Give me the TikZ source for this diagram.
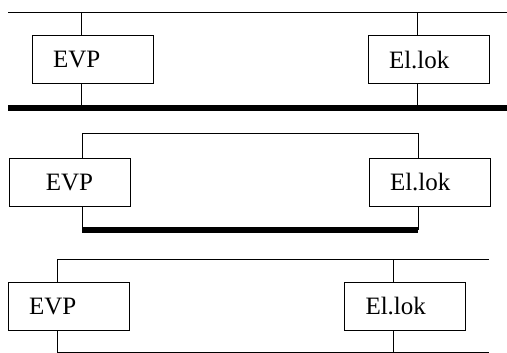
\documentclass[tikz,border=0pt]{standalone}
\usepackage{fontspec}
\setmainfont{Liberation Serif}
\tikzset{
    unit/.style={draw, line width=1pt, minimum height=48pt, text width=79pt, inner xsep=21pt, align=left, font=\fontsize{25}{25}\selectfont},
    wire/.style={line width=1pt},
    bus/.style={line width=6pt}
}
\begin{document}
\begin{tikzpicture}[x=1pt, y=-1pt]
    \useasboundingbox (0,0) rectangle (507,353);
    % first line: EVP and El.lok between two buses
    \node[unit] (evp1) at (92.5,60) {EVP};
    \node[unit] (lok1) at (428.5,60) {El.lok};
    \coordinate (t1l) at (8,12.5); \coordinate (t1r) at (507,12.5);
    \coordinate (b1l) at (8,108.5); \coordinate (b1r) at (507,108.5);
    \coordinate (a1) at (81,12.5); \coordinate (c1) at (417,12.5);
    \draw[wire] (t1l)--(t1r);
    \draw[bus] (b1l)--(b1r);
    \draw[wire] (a1)--(a1 |- evp1.north); \draw[wire] (evp1.south -| a1)--(a1 |- b1l);
    \draw[wire] (c1)--(c1 |- lok1.north); \draw[wire] (lok1.south -| c1)--(c1 |- b1l);

    % second line: loop between the two
    \node[unit, align=center] (evp2) at (69.5,182.5) {EVP};
    \node[unit] (lok2) at (429.5,182.5) {El.lok};
    \coordinate (a2) at (82,134); \coordinate (c2) at (418,134);
    \coordinate (a2b) at (82,229.5); \coordinate (c2b) at (418,229.5);
    \draw[wire] (a2 |- evp2.north)--(a2)--(c2)--(c2 |- lok2.north);
    \draw[wire] (a2 |- evp2.south)--(a2b); \draw[wire] (c2 |- lok2.south)--(c2b);
    \draw[bus] (a2b)--(c2b);

    % third line: open ends on the right
    \node[unit] (evp3) at (68.5,306.5) {EVP};
    \node[unit] (lok3) at (405,306.5) {El.lok};
    \coordinate (a3) at (57,259); \coordinate (c3) at (393,259); \coordinate (r3) at (489,259);
    \coordinate (a3b) at (57,352); \coordinate (c3b) at (393,352); \coordinate (r3b) at (489,352);
    \draw[wire] (a3 |- evp3.north)--(a3)--(r3);
    \draw[wire] (a3 |- evp3.south)--(a3b)--(r3b);
    \draw[wire] (c3)--(c3 |- lok3.north); \draw[wire] (c3 |- lok3.south)--(c3b);
\end{tikzpicture}
\end{document}
